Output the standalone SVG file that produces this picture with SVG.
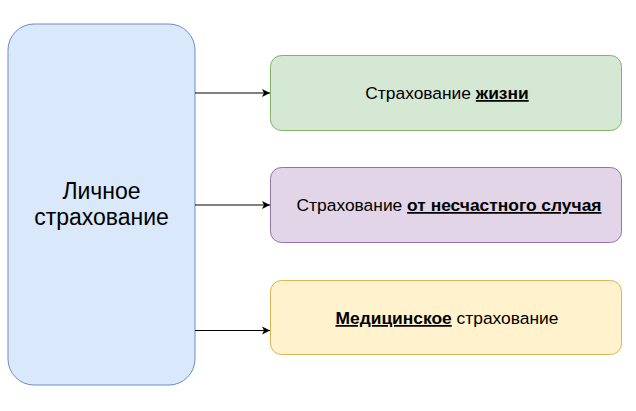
<svg xmlns="http://www.w3.org/2000/svg" width="636" height="411" viewBox="0 0 636 411">
<defs>
<marker id="arr" markerWidth="10" markerHeight="10" refX="8" refY="5" orient="auto" markerUnits="userSpaceOnUse">
<path d="M0,1 L8,5 L0,9 L2,5 Z" fill="#000"/>
</marker>
<style>
text{font-family:"Liberation Sans",Arial,sans-serif;fill:#000}
.t{font-size:17.4px}
.b{font-weight:bold;text-decoration:underline}
.e{stroke:#000;stroke-width:1;fill:none}
</style>
</defs>
<g id="n0">
<rect x="8" y="24" width="187" height="361" rx="26" fill="#dae8fc" stroke="#6c8ebf"/>
<text x="101.5" y="199" font-size="23" text-anchor="middle">Личное</text>
<text x="101.5" y="225" font-size="23" text-anchor="middle">страхование</text>
</g>
<g id="n1">
<rect x="270.5" y="55.5" width="351" height="75" rx="11" fill="#d5e8d4" stroke="#82b366"/>
<text class="t" x="447" y="99" text-anchor="middle">Страхование <tspan class="b">жизни</tspan></text>
</g>
<g id="n2">
<rect x="270.5" y="167.5" width="351" height="75" rx="11" fill="#e1d5e7" stroke="#9673a6"/>
<text class="t" x="449" y="211" text-anchor="middle">Страхование <tspan class="b">от несчастного случая</tspan></text>
</g>
<g id="n3">
<rect x="270.5" y="280.5" width="351" height="74" rx="11" fill="#fff2cc" stroke="#d6b656"/>
<text class="t" x="447" y="324" text-anchor="middle"><tspan class="b">Медицинское</tspan> страхование</text>
</g>
<g id="edges">
<path class="e" d="M195,93 L270,93" marker-end="url(#arr)"/>
<path class="e" d="M195,205 L270,205" marker-end="url(#arr)"/>
<path class="e" d="M195,330.5 L270,330.5" marker-end="url(#arr)"/>
</g>
</svg>
